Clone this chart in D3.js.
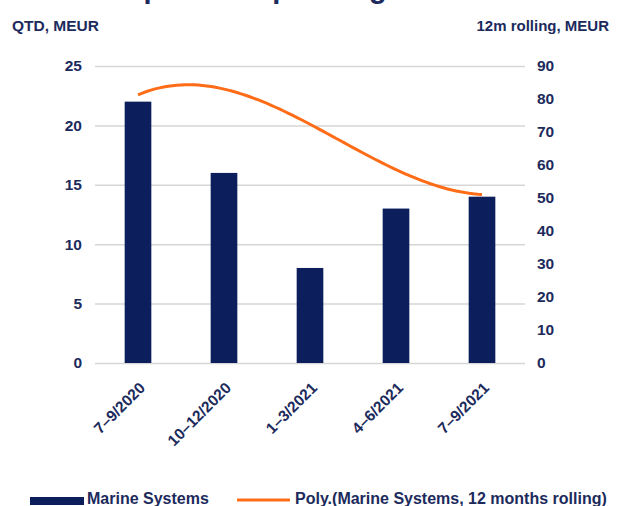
<!DOCTYPE html>
<html>
<head>
<meta charset="utf-8">
<script src="https://cdn.jsdelivr.net/npm/d3@7"></script>
<style>
  html, body { margin: 0; padding: 0; background: #ffffff; }
  svg { display: block; }
  text { font-family: "Liberation Sans", Arial, sans-serif; font-weight: bold; fill: #1c2a5c; }
</style>
</head>
<body>
<svg id="chart" width="622" height="506"></svg>
<script>
// Quarterly comparable operating result, Marine Systems
const categories = ["7–9/2020", "10–12/2020", "1–3/2021", "4–6/2021", "7–9/2021"];
const marineSystems = [22, 16, 8, 13, 14];            // QTD, MEUR
const rolling12m = [81.3, 82.9, 72.5, 58.5, 51.1];    // 12m rolling, MEUR
const leftTicks = [0, 5, 10, 15, 20, 25];
const rightTicks = [0, 10, 20, 30, 40, 50, 60, 70, 80, 90];
const titleText = "Comparable operating result";
const leftUnit = "QTD, MEUR";
const rightUnit = "12m rolling, MEUR";
const legendBar = "Marine Systems";
const legendLine = "Poly.(Marine Systems, 12 months rolling)";

const NAVY = "#0c1f5c";
const ORANGE = "#ff6c17";
const GRID = "#d6d6d6";

const svg = d3.select("#chart");
const plot = { left: 95, right: 525, top: 66, bottom: 363 };

const x = d3.scaleBand()
  .domain(categories)
  .range([plot.left, plot.right])
  .paddingInner(0.69)
  .paddingOuter(0.345);
const yL = d3.scaleLinear().domain([0, 25]).range([plot.bottom, plot.top]);
const yR = d3.scaleLinear().domain([0, 90]).range([plot.bottom, plot.top]);

// Title (runs off the top edge of the page)
svg.append("text")
  .attr("x", 79).attr("y", -2)
  .style("font-size", "29px")
  .text(titleText);

// Axis unit captions
svg.append("text").attr("x", 12).attr("y", 31).style("font-size", "15.5px").text(leftUnit);
svg.append("text").attr("x", 609).attr("y", 31).attr("text-anchor", "end")
  .style("font-size", "15px").text(rightUnit);

// Left axis with horizontal gridlines
const gLeft = svg.append("g")
  .attr("transform", `translate(${plot.left},0)`)
  .call(d3.axisLeft(yL).tickValues(leftTicks)
    .tickSize(-(plot.right - plot.left)).tickPadding(13));
gLeft.select(".domain").remove();
gLeft.selectAll(".tick line").attr("stroke", GRID).attr("stroke-width", 1.5);
gLeft.selectAll(".tick text").style("font-size", "15.5px").attr("fill", "#1c2a5c");

// Right axis (labels only)
const gRight = svg.append("g")
  .attr("transform", `translate(${plot.right},0)`)
  .call(d3.axisRight(yR).tickValues(rightTicks).tickSize(0).tickPadding(12));
gRight.select(".domain").remove();
gRight.selectAll(".tick text").style("font-size", "15.5px").attr("fill", "#1c2a5c");

// Bars
svg.append("g").selectAll("rect")
  .data(categories.map((c, i) => ({ c, v: marineSystems[i] })))
  .join("rect")
  .attr("x", d => x(d.c))
  .attr("width", x.bandwidth())
  .attr("y", d => yL(d.v))
  .attr("height", d => yL(0) - yL(d.v))
  .attr("fill", NAVY);

// Category labels, rotated
const gBottom = svg.append("g")
  .attr("transform", `translate(0,${plot.bottom})`)
  .call(d3.axisBottom(x).tickSize(0).tickPadding(0));
gBottom.select(".domain").remove();
gBottom.selectAll(".tick text")
  .style("font-size", "15.5px")
  .attr("fill", "#1c2a5c")
  .attr("text-anchor", "end")
  .attr("dy", 0)
  .attr("y", 0)
  .attr("transform", "translate(8,26) rotate(-45)");

// Order-3 polynomial trendline (least squares) over the 12m rolling values
function polyFit(xs, ys, order) {
  const n = order + 1;
  const A = Array.from({ length: n }, () => new Array(n + 1).fill(0));
  xs.forEach((xv, k) => {
    for (let r = 0; r < n; r++) {
      for (let c = 0; c < n; c++) A[r][c] += Math.pow(xv, r + c);
      A[r][n] += ys[k] * Math.pow(xv, r);
    }
  });
  for (let i = 0; i < n; i++) {
    let p = i;
    for (let r = i + 1; r < n; r++) if (Math.abs(A[r][i]) > Math.abs(A[p][i])) p = r;
    [A[i], A[p]] = [A[p], A[i]];
    for (let r = 0; r < n; r++) {
      if (r === i) continue;
      const f = A[r][i] / A[i][i];
      for (let c = i; c <= n; c++) A[r][c] -= f * A[i][c];
    }
  }
  return A.map((row, i) => row[n] / row[i]);
}
const idx = categories.map((_, i) => i);
const coef = polyFit(idx, rolling12m, 3);
const evalPoly = t => coef.reduce((s, c, k) => s + c * Math.pow(t, k), 0);
const xIdx = d3.scaleLinear()
  .domain([0, categories.length - 1])
  .range([x(categories[0]) + x.bandwidth() / 2, x(categories[categories.length - 1]) + x.bandwidth() / 2]);
const trend = d3.range(0, categories.length - 1 + 1e-9, 0.05);
svg.append("path")
  .datum(trend)
  .attr("fill", "none")
  .attr("stroke", ORANGE)
  .attr("stroke-width", 3)
  .attr("d", d3.line().x(t => xIdx(t)).y(t => yR(evalPoly(t))).curve(d3.curveLinear));

// Legend
const lg = svg.append("g");
lg.append("rect").attr("x", 30).attr("y", 497).attr("width", 54).attr("height", 8).attr("fill", NAVY);
lg.append("text").attr("x", 87).attr("y", 504).style("font-size", "16px").text(legendBar);
lg.append("line").attr("x1", 237).attr("x2", 290).attr("y1", 500).attr("y2", 500)
  .attr("stroke", ORANGE).attr("stroke-width", 3);
lg.append("text").attr("x", 295).attr("y", 504).style("font-size", "16px").text(legendLine);
</script>
</body>
</html>
